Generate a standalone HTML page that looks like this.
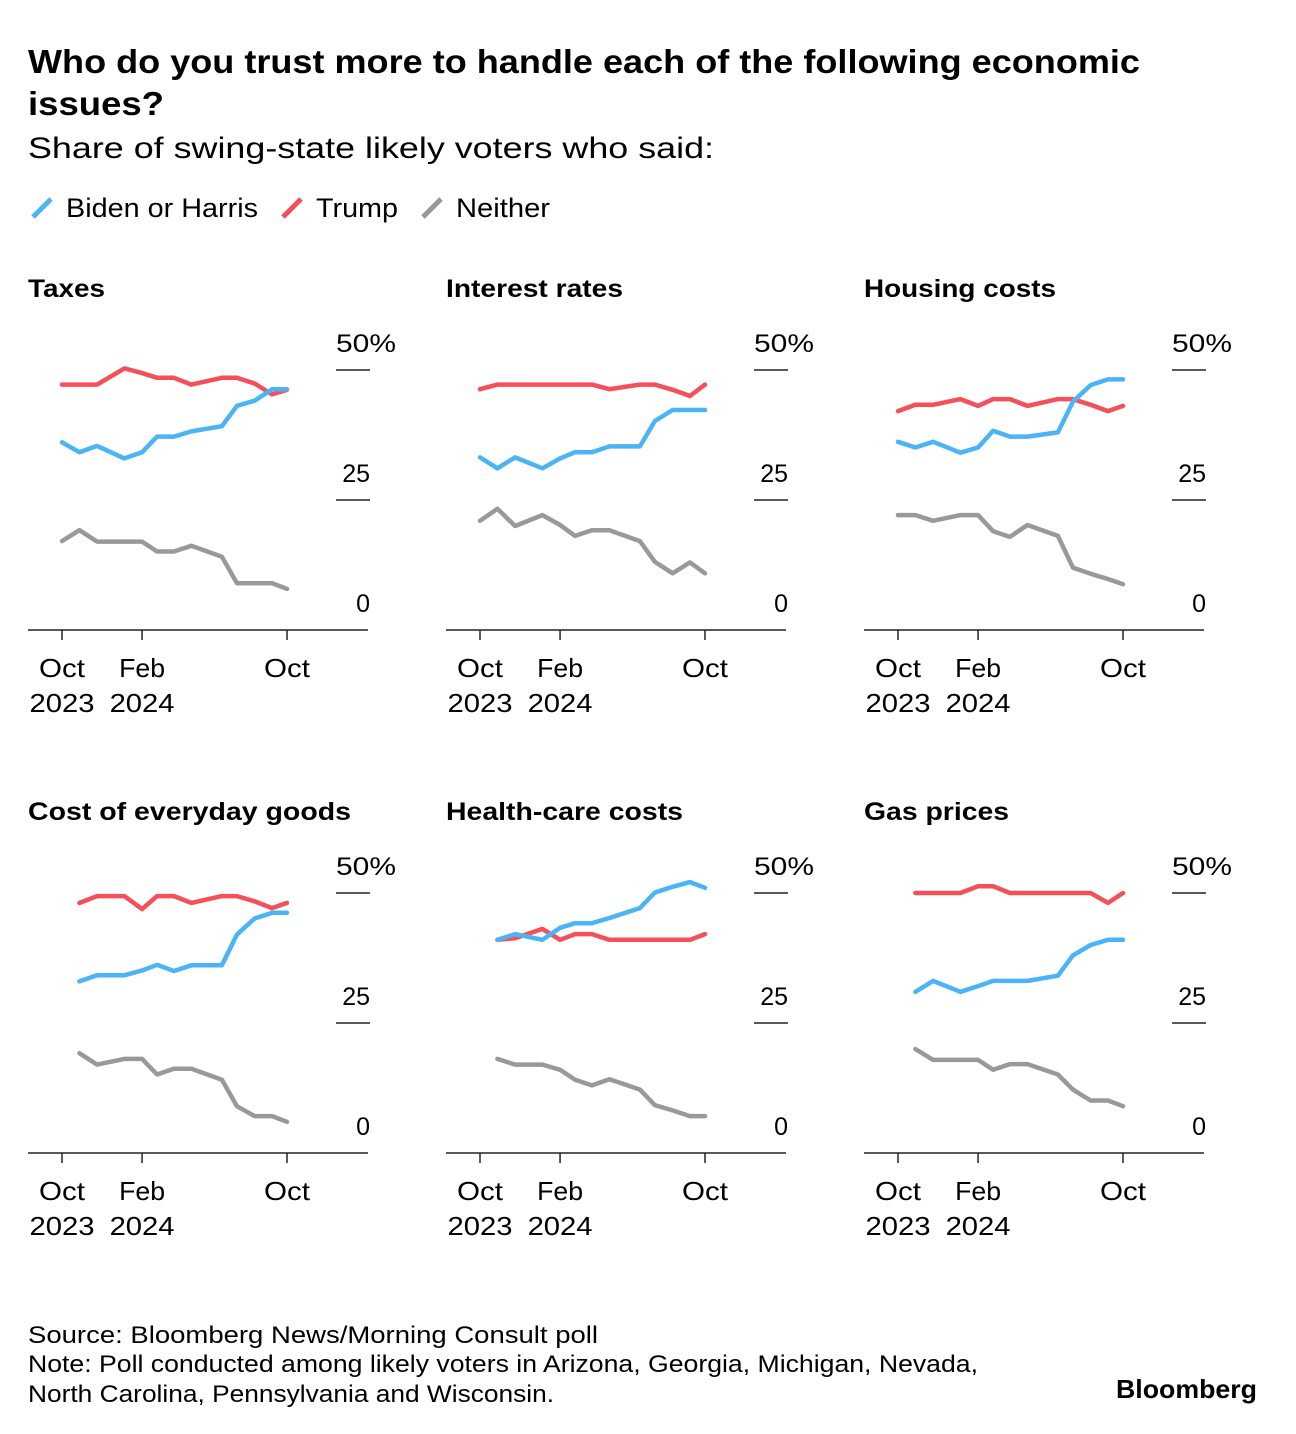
<!DOCTYPE html>
<html><head><meta charset="utf-8"><style>
html,body{margin:0;padding:0;background:#fff;}
svg{display:block;font-family:"Liberation Sans",Arial,sans-serif;}
</style></head><body>
<svg id="chart" width="1296" height="1434" viewBox="0 0 1296 1434">
<text x="28" y="73" font-size="33" font-weight="bold" fill="#000" textLength="1112" lengthAdjust="spacingAndGlyphs">Who do you trust more to handle each of the following economic</text>
<text x="28" y="115" font-size="33" font-weight="bold" fill="#000" textLength="136" lengthAdjust="spacingAndGlyphs">issues?</text>
<text x="28" y="158" font-size="30" fill="#000" textLength="686" lengthAdjust="spacingAndGlyphs">Share of swing-state likely voters who said:</text>
<g>
 <g><line x1="33" y1="217" x2="51" y2="199" stroke="#4bb4f6" stroke-width="5"/><text x="66" y="217" font-size="27" textLength="192" lengthAdjust="spacingAndGlyphs">Biden or Harris</text></g>
 <g><line x1="283" y1="217" x2="301" y2="199" stroke="#f5505a" stroke-width="5"/><text x="316" y="217" font-size="27" textLength="82" lengthAdjust="spacingAndGlyphs">Trump</text></g>
 <g><line x1="423" y1="217" x2="441" y2="199" stroke="#999" stroke-width="5"/><text x="456" y="217" font-size="27" textLength="94" lengthAdjust="spacingAndGlyphs">Neither</text></g>
</g>
<g id="panels"></g>
<text x="28" y="1343" font-size="24" textLength="570" lengthAdjust="spacingAndGlyphs">Source: Bloomberg News/Morning Consult poll</text>
<text x="28" y="1372" font-size="24" textLength="950" lengthAdjust="spacingAndGlyphs">Note: Poll conducted among likely voters in Arizona, Georgia, Michigan, Nevada,</text>
<text x="28" y="1402" font-size="24" textLength="526" lengthAdjust="spacingAndGlyphs">North Carolina, Pennsylvania and Wisconsin.</text>
<text x="1116" y="1398" font-size="26" font-weight="bold" textLength="141" lengthAdjust="spacingAndGlyphs">Bloomberg</text>
</svg>
<script>
const months = [0,0.93,1.87,3.33,4.27,5.07,5.97,6.9,8.53,9.33,10.27,11.2,12];
const panelTitles = ["Taxes","Interest rates","Housing costs","Cost of everyday goods","Health-care costs","Gas prices"];
const bidenSeries = [
 [36.1,34.2,35.4,33.0,34.2,37.2,37.2,38.2,39.2,43.1,44.1,46.3,46.3],
 [33.2,31.1,33.2,31.1,33.0,34.2,34.2,35.3,35.3,40.2,42.3,42.3,42.3],
 [36.2,35.1,36.2,34.1,35.1,38.3,37.2,37.2,38.0,43.9,47.1,48.2,48.2],
 [null,33.0,34.2,34.2,35.1,36.2,35.0,36.1,36.1,42.0,45.1,46.2,46.2],
 [null,41.0,42.1,41.0,43.3,44.2,44.2,45.2,47.1,50.1,51.2,52.1,51.0],
 [null,31.0,33.1,31.0,32.1,33.1,33.1,33.1,34.1,38.0,40.0,41.0,41.0]
];
const trumpSeries = [
 [47.2,47.2,47.2,50.3,49.4,48.5,48.5,47.2,48.5,48.5,47.4,45.3,46.2],
 [46.3,47.2,47.2,47.2,47.2,47.2,47.2,46.3,47.2,47.2,46.2,45.0,47.2],
 [42.1,43.3,43.3,44.4,43.1,44.4,44.4,43.1,44.4,44.4,43.3,42.1,43.1],
 [null,48.1,49.4,49.4,46.9,49.4,49.4,48.1,49.4,49.4,48.4,47.1,48.1],
 [null,41.0,41.3,43.1,41.0,42.1,42.1,41.0,41.0,41.0,41.0,41.0,42.1],
 [null,50.0,50.0,50.0,51.3,51.3,50.0,50.0,50.0,50.0,50.0,48.1,50.0]
];
const neitherSeries = [
 [17.1,19.2,17.0,17.0,17.0,15.1,15.1,16.2,14.1,9.0,9.0,9.0,7.9],
 [21.0,23.3,20.0,22.1,20.2,18.1,19.2,19.2,17.1,13.1,10.9,13.0,10.9],
 [22.1,22.1,21.0,22.1,22.1,19.0,17.9,20.2,18.1,12.0,10.8,9.8,8.8],
 [null,19.2,17.0,18.1,18.1,15.1,16.2,16.2,14.1,9.0,7.1,7.1,6.0],
 [null,18.1,17.0,17.0,16.0,14.1,13.0,14.2,12.2,9.2,8.2,7.1,7.1],
 [null,20.0,17.9,17.9,17.9,16.0,17.1,17.1,15.1,12.2,10.1,10.1,9.0]
];
const yTicks = [0,25,50];
const yTickLabels = ["0","25","50%"];
const xTicks = [0,4.27,12];
const xTickLine1 = ["Oct","Feb","Oct"];
const xTickLine2 = ["2023","2024",""];

const titleWidths=[77,177,192,323,237,145];
const NS="http://www.w3.org/2000/svg";
const root=document.getElementById('panels');
function mk(tag,attrs,parent){const e=document.createElementNS(NS,tag);for(const k in attrs)e.setAttribute(k,attrs[k]);parent.appendChild(e);return e;}
const panelLefts=[28,446,864], rowTops=[0,523];
panelTitles.forEach((title,i)=>{
  const left=panelLefts[i%3], off=rowTops[Math.floor(i/3)];
  const xs=m=>left+34+m*18.75;
  const ys=v=>630+off-v*5.2;
  const g=mk('g',{},root);
  
  
  const t=mk('text',{x:left,y:297+off,'font-size':25,'font-weight':'bold',textLength:titleWidths[i],lengthAdjust:'spacingAndGlyphs'},g);t.textContent=title;
  
  
  yTicks.forEach((v,k)=>{
    if(v>0){const gl=mk('line',{x1:left+308,x2:left+342,y1:ys(v),y2:ys(v),stroke:'#222','stroke-width':1.5},g);
      
      }
    const lb=mk('text',{x:left+342,y:ys(v)-18,'font-size':25,'text-anchor':'end'},g);
    if(v===50){lb.setAttribute('x',left+308);lb.setAttribute('text-anchor','start');lb.setAttribute('textLength',60);lb.setAttribute('lengthAdjust','spacingAndGlyphs');}
    lb.textContent=yTickLabels[k];
    
    
  });
  const ax=mk('line',{x1:left,x2:left+340,y1:ys(0),y2:ys(0),stroke:'#222','stroke-width':1.5},g);
  
  
  xTicks.forEach((m,k)=>{
    mk('line',{x1:xs(m),x2:xs(m),y1:ys(0),y2:ys(0)+10,stroke:'#222','stroke-width':1.5},g);
    const a=mk('text',{x:xs(m),y:ys(0)+47,'font-size':26,'text-anchor':'middle',textLength:46,lengthAdjust:'spacingAndGlyphs'},g);a.textContent=xTickLine1[k];
    
    
    if(xTickLine2[k]){const b=mk('text',{x:xs(m),y:ys(0)+82,'font-size':26,'text-anchor':'middle',textLength:65,lengthAdjust:'spacingAndGlyphs'},g);b.textContent=xTickLine2[k];
      
      }
  });
  [[neitherSeries[i],'#999','neither'],[trumpSeries[i],'#f5505a','trump'],[bidenSeries[i],'#4bb4f6','biden']].forEach(([vals,col,nm])=>{
    const pts=[];vals.forEach((v,j)=>{if(v!==null)pts.push(xs(months[j]).toFixed(1)+','+ys(v).toFixed(1));});
    const p=mk('polyline',{points:pts.join(' '),fill:'none',stroke:col,'stroke-width':4.5,'stroke-linejoin':'round','stroke-linecap':'round'},g);
    
    
  });
});
</script>
</body></html>
